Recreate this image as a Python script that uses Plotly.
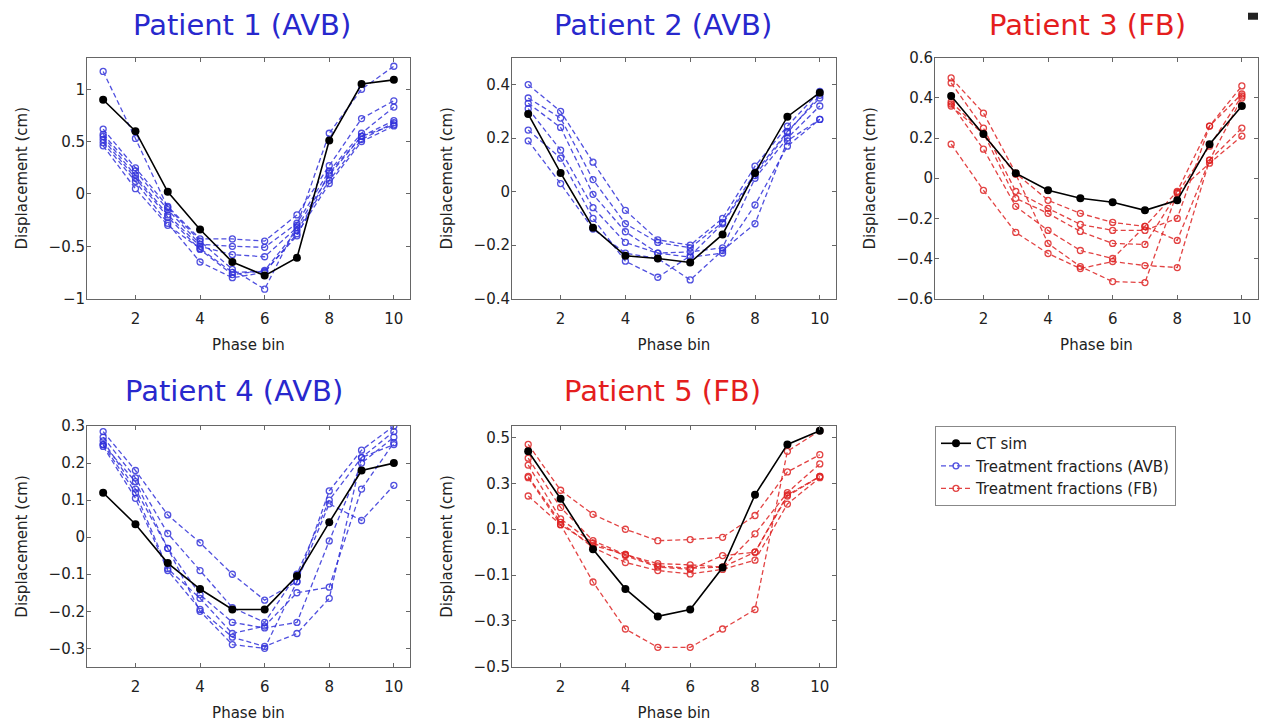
import plotly.graph_objects as go

phase_bins = [1, 2, 3, 4, 5, 6, 7, 8, 9, 10]
x_ticks = [2, 4, 6, 8, 10]

titles = ["Patient 1 (AVB)", "Patient 2 (AVB)", "Patient 3 (FB)", "Patient 4 (AVB)", "Patient 5 (FB)"]
modes = ["AVB", "AVB", "FB", "AVB", "FB"]

# Patient 1
p1_ct = [0.90, 0.60, 0.02, -0.34, -0.65, -0.78, -0.61, 0.51, 1.05, 1.09]
p1_fx = [
    [1.17, 0.53, -0.13, -0.45, -0.72, -0.91, -0.30, 0.58, 1.00, 1.22],
    [0.62, 0.25, -0.12, -0.43, -0.43, -0.45, -0.20, 0.27, 0.72, 0.89],
    [0.57, 0.22, -0.15, -0.48, -0.50, -0.51, -0.28, 0.22, 0.58, 0.83],
    [0.55, 0.18, -0.20, -0.50, -0.58, -0.60, -0.32, 0.18, 0.55, 0.70],
    [0.52, 0.15, -0.22, -0.53, -0.77, -0.73, -0.35, 0.13, 0.52, 0.68],
    [0.49, 0.12, -0.28, -0.65, -0.80, -0.75, -0.38, 0.10, 0.50, 0.65],
    [0.46, 0.05, -0.30, -0.52, -0.75, -0.74, -0.40, 0.20, 0.55, 0.66],
]

# Patient 2
p2_ct = [0.29, 0.07, -0.135, -0.24, -0.25, -0.265, -0.16, 0.07, 0.28, 0.37]
p2_fx = [
    [0.40, 0.30, 0.11, -0.07, -0.18, -0.20, -0.10, 0.095, 0.245, 0.375],
    [0.35, 0.275, 0.045, -0.12, -0.19, -0.21, -0.115, 0.07, 0.225, 0.35],
    [0.33, 0.24, -0.01, -0.15, -0.23, -0.225, -0.21, 0.05, 0.20, 0.32],
    [0.31, 0.155, -0.06, -0.19, -0.23, -0.245, -0.23, -0.05, 0.17, 0.27],
    [0.23, 0.125, -0.10, -0.26, -0.32, -0.24, -0.12, 0.06, 0.22, 0.36],
    [0.19, 0.03, -0.14, -0.23, -0.25, -0.33, -0.22, -0.12, 0.19, 0.27],
]

# Patient 3
p3_ct = [0.41, 0.22, 0.025, -0.06, -0.10, -0.12, -0.16, -0.11, 0.17, 0.36]
p3_fx = [
    [0.50, 0.325, 0.025, -0.11, -0.175, -0.22, -0.24, -0.065, 0.26, 0.46],
    [0.475, 0.25, -0.065, -0.15, -0.23, -0.26, -0.26, -0.20, 0.26, 0.42],
    [0.38, 0.225, -0.10, -0.175, -0.265, -0.325, -0.33, -0.075, 0.16, 0.41],
    [0.37, 0.145, -0.14, -0.26, -0.36, -0.40, -0.24, -0.31, 0.09, 0.25],
    [0.36, 0.22, 0.02, -0.325, -0.44, -0.515, -0.52, -0.07, 0.075, 0.21],
    [0.17, -0.06, -0.27, -0.375, -0.45, -0.415, -0.435, -0.445, 0.09, 0.40],
]

# Patient 4
p4_ct = [0.12, 0.035, -0.07, -0.14, -0.195, -0.195, -0.105, 0.04, 0.18, 0.20]
p4_fx = [
    [0.285, 0.18, 0.06, -0.015, -0.10, -0.17, -0.12, 0.125, 0.235, 0.30],
    [0.27, 0.16, 0.01, -0.09, -0.19, -0.23, -0.10, 0.10, 0.215, 0.285],
    [0.26, 0.13, -0.03, -0.155, -0.23, -0.245, -0.23, -0.01, 0.20, 0.27],
    [0.25, 0.12, -0.085, -0.165, -0.26, -0.24, -0.15, -0.135, 0.13, 0.255],
    [0.245, 0.105, -0.09, -0.195, -0.27, -0.295, -0.26, -0.165, 0.215, 0.25],
    [0.25, 0.15, -0.03, -0.20, -0.29, -0.30, -0.12, 0.09, 0.045, 0.14],
]

# Patient 5
p5_ct = [0.44, 0.233, 0.013, -0.16, -0.28, -0.25, -0.067, 0.25, 0.47, 0.53]
p5_fx = [
    [0.47, 0.27, 0.165, 0.10, 0.05, 0.055, 0.065, 0.16, 0.35, 0.425],
    [0.41, 0.195, 0.05, -0.01, -0.05, -0.055, -0.065, 0.08, 0.26, 0.385],
    [0.38, 0.145, 0.04, -0.015, -0.065, -0.075, -0.015, 0.00, 0.245, 0.33],
    [0.33, 0.13, 0.02, -0.045, -0.08, -0.095, -0.075, -0.035, 0.21, 0.325],
    [0.325, 0.12, -0.13, -0.335, -0.415, -0.415, -0.335, -0.25, 0.44, 0.53],
    [0.245, 0.12, 0.03, -0.01, -0.06, -0.07, -0.065, 0.00, 0.25, 0.33],
]

y_ranges = [[-1, 1.3], [-0.4, 0.5], [-0.6, 0.6], [-0.35, 0.3], [-0.5, 0.55]]
y_ticks = [
    [-1, -0.5, 0, 0.5, 1],
    [-0.4, -0.2, 0, 0.2, 0.4],
    [-0.6, -0.4, -0.2, 0, 0.2, 0.4, 0.6],
    [-0.3, -0.2, -0.1, 0, 0.1, 0.2, 0.3],
    [-0.5, -0.3, -0.1, 0.1, 0.3, 0.5],
]

ct_all = [p1_ct, p2_ct, p3_ct, p4_ct, p5_ct]
fx_all = [p1_fx, p2_fx, p3_fx, p4_fx, p5_fx]

W, H = 1262, 725
# panel pixel boxes: (left, right, top, bottom)
boxes = [(87, 410, 58, 298), (512, 836, 58, 298), (935, 1258, 58, 298),
         (87, 410, 425, 665), (512, 836, 425, 665)]
# title centres in pixels (x, y)
title_pos = [(242, 25), (663, 25), (1087, 25), (234, 390), (663, 390)]


def py(y):
    # vertical pixel -> page pixel, compensating the capture's vertical fit
    return (y - 9.3) / 0.972


def yp(y):
    return 1 - py(y) / H


BLUE = "rgb(50,50,218)"
RED = "rgb(222,35,35)"
TITLE_BLUE = "rgb(40,40,205)"
TITLE_RED = "rgb(228,30,30)"
FONT = "DejaVu Sans, Arial, sans-serif"

fig = go.Figure()
layout = dict(width=W, height=H, margin=dict(l=0, r=0, t=0, b=0),
              paper_bgcolor="white", plot_bgcolor="white",
              font=dict(family=FONT, size=15, color="#222"))
annotations = []
legend_shown = {"CT": False, "AVB": False, "FB": False}

for i in range(5):
    n = i + 1
    xa = "x" if n == 1 else f"x{n}"
    ya = "y" if n == 1 else f"y{n}"
    l, r, t, b = boxes[i]
    color = BLUE if modes[i] == "AVB" else RED
    for fx in fx_all[i]:
        show = not legend_shown[modes[i]]
        legend_shown[modes[i]] = True
        fig.add_trace(go.Scatter(
            x=phase_bins, y=fx, xaxis=xa, yaxis=ya, mode="lines+markers",
            line=dict(color=color, width=1.3, dash="5px,3px"),
            marker=dict(symbol="circle-open", size=6, color=color, line=dict(width=1.3)),
            opacity=0.85,
            name=f"Treatment fractions ({modes[i]})", legendgroup=modes[i],
            showlegend=show, legendrank=2 if modes[i] == "AVB" else 3))
    show = not legend_shown["CT"]
    legend_shown["CT"] = True
    fig.add_trace(go.Scatter(
        x=phase_bins, y=ct_all[i], xaxis=xa, yaxis=ya, mode="lines+markers",
        line=dict(color="black", width=1.6),
        marker=dict(symbol="circle", size=8, color="black"),
        name="CT sim", legendgroup="CT", showlegend=show, legendrank=1))

    axis_common = dict(showline=True, linecolor="#666", linewidth=1, mirror="ticks",
                       ticks="inside", ticklen=4, tickcolor="#666", showgrid=False,
                       zeroline=False, tickfont=dict(size=15, color="#222", family=FONT))
    layout["xaxis" if n == 1 else f"xaxis{n}"] = dict(
        axis_common, domain=[l / W, r / W], anchor=ya, range=[0.5, 10.5],
        tickvals=x_ticks, ticklabelstandoff=6,
        title=dict(text="Phase bin", font=dict(size=15, color="#222"), standoff=12))
    layout["yaxis" if n == 1 else f"yaxis{n}"] = dict(
        axis_common, domain=[yp(b), yp(t)], anchor=xa, range=y_ranges[i],
        tickvals=y_ticks[i], ticktext=[("%g" % v).replace("-", "\u2212") for v in y_ticks[i]],
        ticklabelstandoff=-2,
        title=dict(text="Displacement (cm)", font=dict(size=15, color="#222"), standoff=17))
    tx, ty = title_pos[i]
    annotations.append(dict(
        text=titles[i], x=tx / W, y=yp(ty), xref="paper", yref="paper",
        xanchor="center", yanchor="middle", showarrow=False,
        font=dict(size=29, family=FONT, color=TITLE_BLUE if modes[i] == "AVB" else TITLE_RED)))

layout["annotations"] = annotations
layout["legend"] = dict(x=935 / W, y=yp(425), xanchor="left", yanchor="top",
                        bordercolor="#888", borderwidth=1, bgcolor="white",
                        font=dict(size=15, color="#222", family=FONT),
                        tracegroupgap=0, itemwidth=30)
layout["shapes"] = [dict(type="rect", xref="paper", yref="paper",
                         x0=1248 / W, x1=1258 / W, y0=yp(20), y1=yp(13),
                         fillcolor="#222", line=dict(width=0))]
fig.update_layout(**layout)
fig.write_html("out.html", config={"displayModeBar": False},
               post_script="document.body.style.margin='0';")
